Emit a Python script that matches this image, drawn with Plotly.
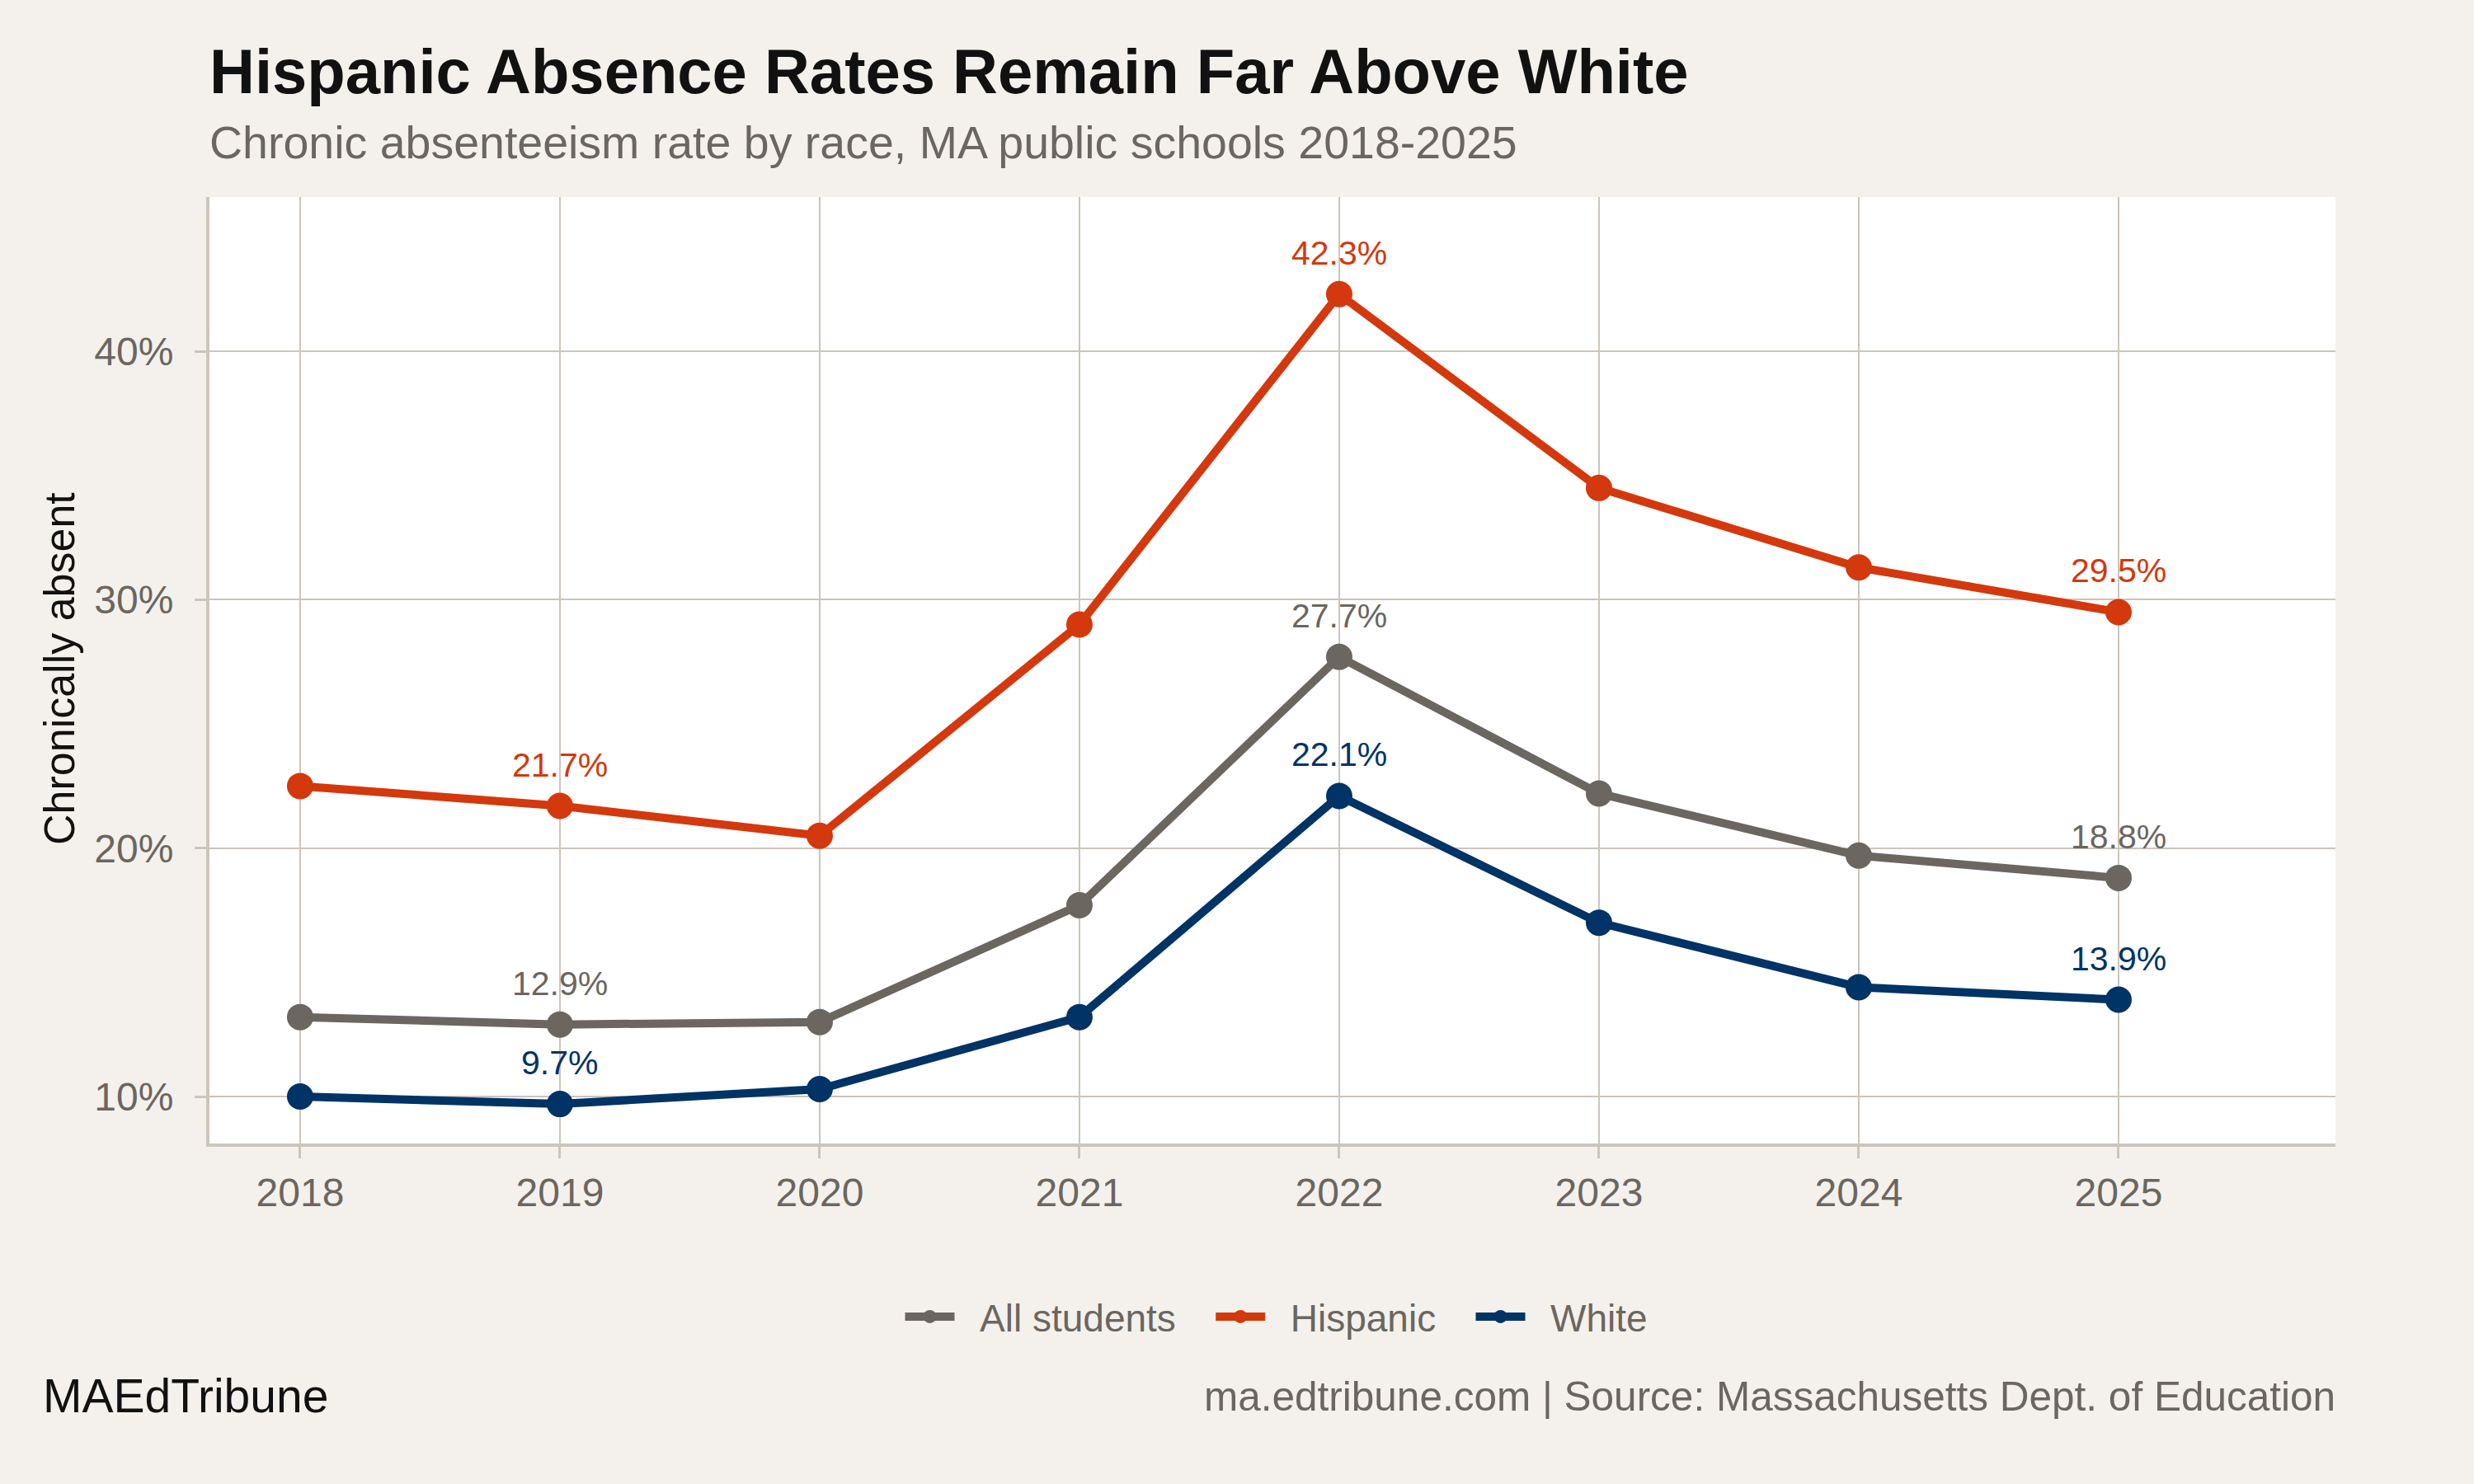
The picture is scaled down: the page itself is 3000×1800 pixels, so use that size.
import plotly.graph_objects as go

years = [2018, 2019, 2020, 2021, 2022, 2023, 2024, 2025]
all_students = [13.2, 12.9, 13.0, 17.7, 27.7, 22.2, 19.7, 18.8]
hispanic = [22.5, 21.7, 20.5, 29.0, 42.3, 34.5, 31.3, 29.5]
white = [10.0, 9.7, 10.3, 13.2, 22.1, 17.0, 14.4, 13.9]
label_years = [2019, 2022, 2025]
y_ticks = [10, 20, 30, 40]

series = [
    ("All students", all_students, "#6B6660"),
    ("Hispanic", hispanic, "#D4380D"),
    ("White", white, "#003366"),
]

BG = "#F4F1EC"
GRID = "#CCC5BC"
FONT = "Liberation Sans, Arial, Helvetica, sans-serif"
NB = "\u00a0"

fig = go.Figure()
for i, (name, vals, col) in enumerate(series):
    trail = NB * 3 if i < len(series) - 1 else ""
    fig.add_trace(go.Scatter(
        x=years, y=vals, name=NB * 2 + name + trail, mode="lines+markers",
        line=dict(color=col, width=10),
        marker=dict(color=col, size=32),
        hoverinfo="skip",
    ))

annotations = []
for name, vals, col in series:
    for yr in label_years:
        v = vals[years.index(yr)]
        annotations.append(dict(
            x=yr, y=v, xref="x", yref="y", text=f"{v:.1f}%",
            showarrow=False, yshift=50, yanchor="middle", xanchor="center",
            font=dict(family=FONT, size=41, color=col),
        ))

W, H = 3000, 1800
L, R, T, B = 254, 168, 239, 413
PW, PH = W - L - R, H - T - B

def px(xp):
    return (xp - L) / PW

def py(yp):
    return (H - B - yp) / PH

annotations += [
    dict(text="<b>Hispanic Absence Rates Remain Far Above White</b>", xref="paper", yref="paper",
         x=px(252), y=py(86), xanchor="left", yanchor="middle", showarrow=False,
         font=dict(family=FONT, size=76, color="#111111")),
    dict(text="Chronic absenteeism rate by race, MA public schools 2018-2025", xref="paper", yref="paper",
         x=px(252), y=py(173), xanchor="left", yanchor="middle", showarrow=False,
         font=dict(family=FONT, size=55.5, color="#6B6660")),
    dict(text="Chronically absent", xref="paper", yref="paper",
         x=px(72), y=py(811), xanchor="center", yanchor="middle", showarrow=False, textangle=-90,
         font=dict(family=FONT, size=52, color="#111111")),
    dict(text="MAEdTribune", xref="paper", yref="paper",
         x=px(50), y=py(1693), xanchor="left", yanchor="middle", showarrow=False,
         font=dict(family=FONT, size=57, color="#111111")),
    dict(text="ma.edtribune.com | Source: Massachusetts Dept. of Education", xref="paper", yref="paper",
         x=px(2834), y=py(1693), xanchor="right", yanchor="middle", showarrow=False,
         font=dict(family=FONT, size=49.5, color="#6B6660")),
]

fig.update_layout(
    width=W, height=H,
    margin=dict(l=L, r=R, t=T, b=B, pad=0),
    paper_bgcolor=BG, plot_bgcolor="white",
    font=dict(family=FONT, color="#6B6660"),
    showlegend=True,
    legend=dict(orientation="h", x=px(1548), y=py(1597), xanchor="center", yanchor="middle",
                font=dict(family=FONT, size=46, color="#6B6660"), bgcolor="rgba(0,0,0,0)",
                itemwidth=60, tracegroupgap=0),
    annotations=annotations,
    xaxis=dict(range=[2017.651, 2025.835], tickvals=years, ticktext=[str(y) for y in years],
               showgrid=True, gridcolor=GRID, gridwidth=2, zeroline=False,
               showline=True, linecolor=GRID, linewidth=4,
               ticks="outside", ticklen=14, tickwidth=3, tickcolor=GRID,
               tickfont=dict(family=FONT, size=48, color="#6B6660"), ticklabelstandoff=0),
    yaxis=dict(range=[8.11, 46.21], tickvals=y_ticks, ticktext=[f"{v}%" for v in y_ticks],
               showgrid=True, gridcolor=GRID, gridwidth=2, zeroline=False,
               showline=True, linecolor=GRID, linewidth=4,
               ticks="outside", ticklen=14, tickwidth=3, tickcolor=GRID,
               tickfont=dict(family=FONT, size=48, color="#6B6660"), ticklabelstandoff=16),
)

fig.write_html("out.html")
